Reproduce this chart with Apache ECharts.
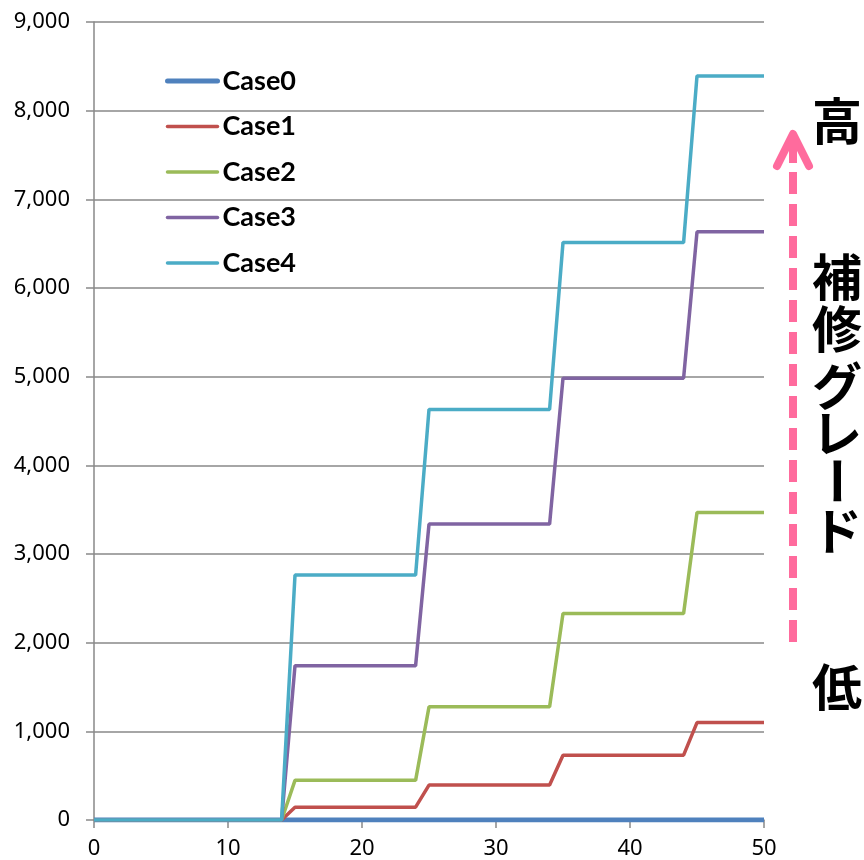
<!DOCTYPE html>
<html><head><meta charset="utf-8">
<script src="https://cdn.jsdelivr.net/npm/echarts@6/dist/echarts.min.js"></script>
<style>html,body{margin:0;padding:0;background:#fff}#c{width:864px;height:860px}</style>
</head><body><div id="c"></div>
<script>
const seriesNames = ['Case0', 'Case1', 'Case2', 'Case3', 'Case4'];
const seriesColors = ['#4F81BD', '#C0504D', '#9BBB59', '#8064A2', '#4BACC6'];
const xBreaks = [0, 14, 15, 24, 25, 34, 35, 44, 45, 50];
const case0 = [0, 0, 0, 0, 0, 0, 0, 0, 0, 0];
const case1 = [0, 0, 145, 145, 394, 394, 731, 731, 1099, 1099];
const case2 = [0, 0, 447, 447, 1276, 1276, 2329, 2329, 3469, 3469];
const case3 = [0, 0, 1740, 1740, 3337, 3337, 4983, 4983, 6633, 6633];
const case4 = [0, 0, 2762, 2762, 4631, 4631, 6513, 6513, 8392, 8392];
const xTickLabels = [0, 10, 20, 30, 40, 50];
const yTickLabels = ['0', '1,000', '2,000', '3,000', '4,000', '5,000', '6,000', '7,000', '8,000', '9,000'];
const gradeHigh = '高';
const gradeLow = '低';
const gradeTitle = ['補', '修', 'グ', 'レ', 'ー', 'ド'];

const allValues = [case0, case1, case2, case3, case4];
const chart = echarts.init(document.getElementById('c'), null, {renderer: 'canvas'});

const lineWidths = [5, 3.5, 3.5, 3.5, 3.5];
const series = seriesNames.map((name, i) => ({
  name: name,
  type: 'line',
  data: xBreaks.map((x, j) => [x, allValues[i][j]]),
  showSymbol: false,
  symbol: 'none',
  lineStyle: {color: seriesColors[i], width: lineWidths[i]},
  itemStyle: {color: seriesColors[i]},
  z: 2 + i
}));

const titleY = [277, 329, 386, 433, 481, 531];
const cjkFont = '"Noto Sans CJK JP", sans-serif';
const graphic = [];
graphic.push({type: 'text', x: 837, y: 121, style: {text: gradeHigh, font: 'bold 50px ' + cjkFont, fill: '#000', textAlign: 'center', textVerticalAlign: 'middle'}});
graphic.push({type: 'text', x: 837, y: 687, style: {text: gradeLow, font: 'bold 50px ' + cjkFont, fill: '#000', textAlign: 'center', textVerticalAlign: 'middle'}});
gradeTitle.forEach((ch, i) => {
  graphic.push({type: 'text', x: 837, y: titleY[i], rotation: ch === 'ー' ? -Math.PI / 2 : 0,
    style: {text: ch, font: 'bold 50px ' + cjkFont, fill: '#000', textAlign: 'center', textVerticalAlign: 'middle'}});
});
graphic.push({type: 'line', shape: {x1: 793, y1: 642, x2: 793, y2: 172},
  style: {stroke: '#FF6B9D', lineWidth: 8, lineDash: [22, 10]}});
graphic.push({type: 'polyline', shape: {points: [[777, 166], [793, 134], [809, 166]]},
  style: {stroke: '#FF6B9D', lineWidth: 8, lineCap: 'round', lineJoin: 'round', fill: null}});
graphic.push({type: 'line', shape: {x1: 793, y1: 136, x2: 793, y2: 163},
  style: {stroke: '#FF6B9D', lineWidth: 8}});

chart.setOption({
  animation: false,
  backgroundColor: '#fff',
  grid: {left: 94, right: 100, top: 22, bottom: 38, containLabel: false},
  legend: {
    orient: 'vertical', left: 165, top: 67.5, padding: 0,
    itemWidth: 50, itemHeight: 27, itemGap: 18.5,
    data: seriesNames.map((n, i) => ({
      name: n,
      itemStyle: {opacity: 0},
      lineStyle: {width: lineWidths[i], color: seriesColors[i], cap: 'round'}
    })),
    textStyle: {fontFamily: 'Lato', fontWeight: 'bold', fontSize: 27, color: '#000', lineHeight: 27}
  },
  xAxis: {
    type: 'value', min: 0, max: 50, interval: 10,
    axisLine: {show: true, lineStyle: {color: '#898989', width: 1.5}},
    axisTick: {show: true, length: 8, lineStyle: {color: '#898989', width: 1.5}},
    axisLabel: {margin: 18, fontFamily: 'Noto Sans', fontSize: 22, color: '#000',
      formatter: v => String(xTickLabels[Math.round(v / 10)])},
    splitLine: {show: false}
  },
  yAxis: {
    type: 'value', min: 0, max: 9000, interval: 1000,
    axisLine: {show: true, lineStyle: {color: '#898989', width: 1.5}},
    axisTick: {show: true, length: 8, lineStyle: {color: '#898989', width: 1.5}},
    axisLabel: {margin: 24, fontFamily: 'Noto Sans', fontSize: 22, color: '#000',
      formatter: v => yTickLabels[Math.round(v / 1000)]},
    splitLine: {show: true, lineStyle: {color: '#898989', width: 1.5}}
  },
  series: series,
  graphic: graphic
});
</script></body></html>
